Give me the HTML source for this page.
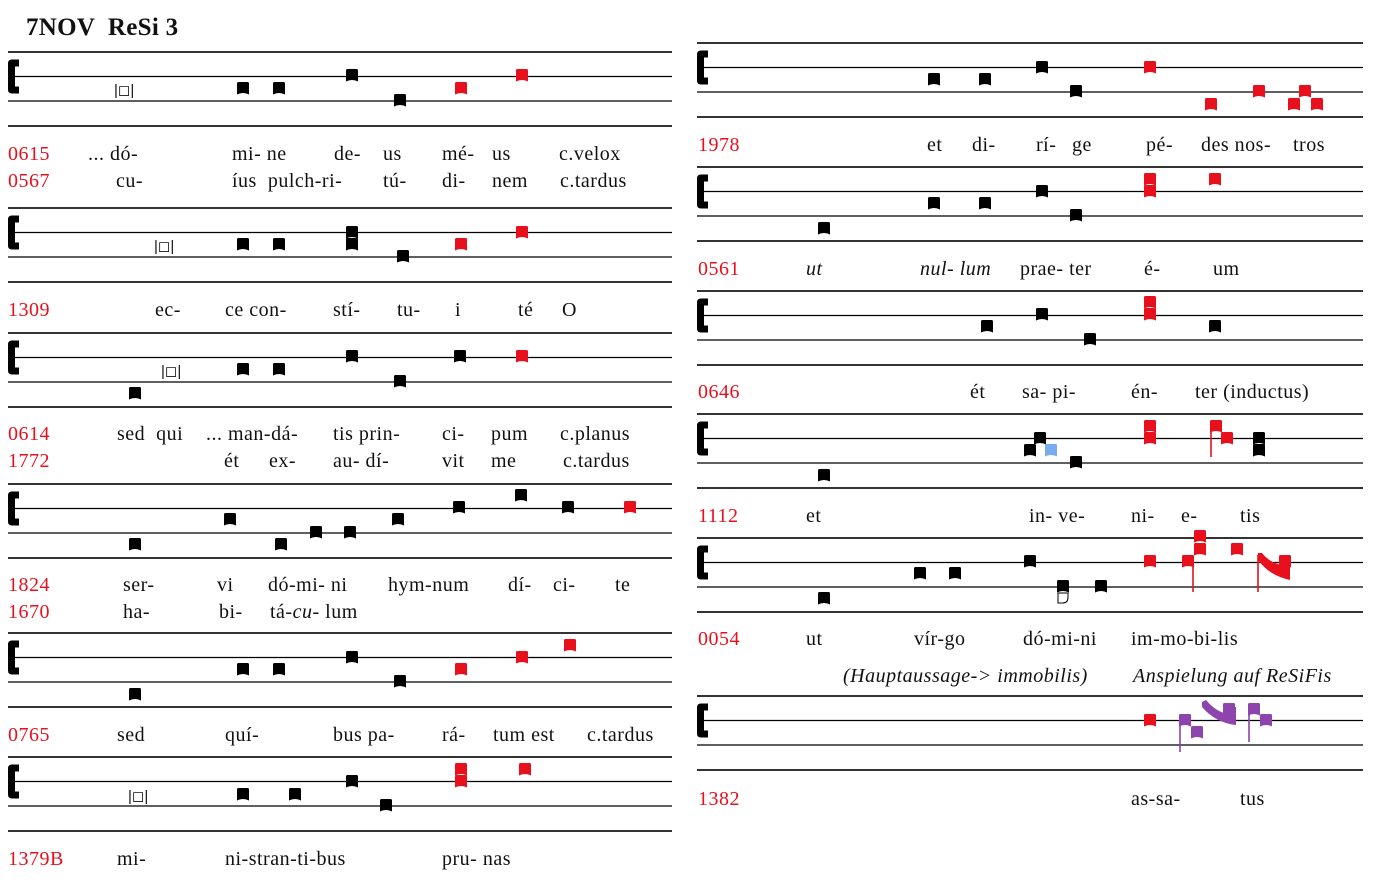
<!DOCTYPE html>
<html><head><meta charset="utf-8"><style>
html,body{margin:0;padding:0;background:#fff}
svg{display:block}
text{font-family:"Liberation Serif",serif;font-size:20px;letter-spacing:0.5px;fill:#111}
.r{fill:#e8101c}
.i{font-style:italic}
</style></head><body>
<svg id="s" width="1388" height="882" xmlns="http://www.w3.org/2000/svg">
<text x="26" y="35" style="font-size:25px;font-weight:bold;letter-spacing:0.3px" xml:space="preserve">7NOV  ReSi 3</text>
<g id="g"></g>
<!-- left text -->
<text x="8" y="160" class="r">0615</text><text x="88" y="160">... dó-</text><text x="232" y="160">mi- ne</text><text x="334" y="160">de-</text><text x="383" y="160">us</text><text x="442" y="160">mé-</text><text x="492" y="160">us</text><text x="559" y="160">c.velox</text>
<text x="8" y="187" class="r">0567</text><text x="116" y="187">cu-</text><text x="232" y="187" xml:space="preserve">íus  pulch-ri-</text><text x="383" y="187">tú-</text><text x="442" y="187">di-</text><text x="492" y="187">nem</text><text x="560" y="187">c.tardus</text>
<text x="8" y="316" class="r">1309</text><text x="155" y="316">ec-</text><text x="225" y="316">ce con-</text><text x="333" y="316">stí-</text><text x="397" y="316">tu-</text><text x="455" y="316">i</text><text x="518" y="316">té</text><text x="562" y="316">O</text>
<text x="8" y="440" class="r">0614</text><text x="117" y="440" xml:space="preserve">sed  qui</text><text x="206" y="440">... man-dá-</text><text x="333" y="440">tis prin-</text><text x="442" y="440">ci-</text><text x="491" y="440">pum</text><text x="560" y="440">c.planus</text>
<text x="8" y="467" class="r">1772</text><text x="224" y="467">ét</text><text x="269" y="467">ex-</text><text x="333" y="467">au- dí-</text><text x="442" y="467">vit</text><text x="491" y="467">me</text><text x="563" y="467">c.tardus</text>
<text x="8" y="591" class="r">1824</text><text x="123" y="591">ser-</text><text x="217" y="591">vi</text><text x="268" y="591">dó-mi- ni</text><text x="388" y="591">hym-num</text><text x="508" y="591">dí-</text><text x="553" y="591">ci-</text><text x="615" y="591">te</text>
<text x="8" y="618" class="r">1670</text><text x="123" y="618">ha-</text><text x="219" y="618">bi-</text><text x="270" y="618">tá-<tspan class="i">cu</tspan>- lum</text>
<text x="8" y="741" class="r">0765</text><text x="117" y="741">sed</text><text x="225" y="741">quí-</text><text x="333" y="741">bus pa-</text><text x="442" y="741">rá-</text><text x="493" y="741">tum est</text><text x="587" y="741">c.tardus</text>
<text x="8" y="865" class="r">1379B</text><text x="117" y="865">mi-</text><text x="225" y="865">ni-stran-ti-bus</text><text x="442" y="865">pru- nas</text>
<!-- right text -->
<text x="698" y="151" class="r">1978</text><text x="927" y="151">et</text><text x="972" y="151">di-</text><text x="1036" y="151">rí-</text><text x="1072" y="151">ge</text><text x="1146" y="151">pé-</text><text x="1201" y="151">des nos-</text><text x="1293" y="151">tros</text>
<text x="698" y="275" class="r">0561</text><text x="806" y="275" class="i">ut</text><text x="920" y="275" class="i">nul- lum</text><text x="1020" y="275">prae- ter</text><text x="1144" y="275">é-</text><text x="1213" y="275">um</text>
<text x="698" y="398" class="r">0646</text><text x="970" y="398">ét</text><text x="1022" y="398">sa- pi-</text><text x="1131" y="398">én-</text><text x="1195" y="398">ter (inductus)</text>
<text x="698" y="522" class="r">1112</text><text x="806" y="522">et</text><text x="1029" y="522">in- ve-</text><text x="1131" y="522">ni-</text><text x="1181" y="522">e-</text><text x="1240" y="522">tis</text>
<text x="698" y="645" class="r">0054</text><text x="806" y="645">ut</text><text x="914" y="645">vír-go</text><text x="1023" y="645">dó-mi-ni</text><text x="1131" y="645">im-mo-bi-lis</text>
<text x="843" y="682" class="i">(Hauptaussage-&gt; immobilis)</text><text x="1133" y="682" class="i">Anspielung auf ReSiFis</text>
<text x="698" y="805" class="r">1382</text><text x="1131" y="805">as-sa-</text><text x="1240" y="805">tus</text>
</svg>
<script>
var g=document.getElementById('g'),h='';
function staff(x1,x2,y){var ys=[y,y+24.5,y+49,y+74];
 h+='<line x1="'+x1+'" x2="'+x2+'" y1="'+ys[0]+'" y2="'+ys[0]+'" stroke="#333" stroke-width="2"/>';
 h+='<line x1="'+x1+'" x2="'+x2+'" y1="'+ys[3]+'" y2="'+ys[3]+'" stroke="#333" stroke-width="2"/>';
 h+='<line x1="'+x1+'" x2="'+x2+'" y1="'+ys[1]+'" y2="'+ys[1]+'" stroke="#000" stroke-width="1.3"/>';
 h+='<line x1="'+x1+'" x2="'+x2+'" y1="'+ys[2]+'" y2="'+ys[2]+'" stroke="#000" stroke-width="1.3"/>';
 var c=ys[1],x=x1;
 h+='<path d="M'+(x+4)+' '+(c-17)+' h7 v7 h-4 v20 h4 v7 h-7 q-4 0 -4 -4 v-26 q0 -4 4 -4 z" fill="#000"/>';
}
function n(x,y,c){c=c||'#000';h+='<path d="M'+(x-6)+' '+(y-5.5)+' q0 -1.5 1.5 -1.5 h9 q1.5 0 1.5 1.5 v11 q-6 -3 -12 0 z" fill="'+c+'"/>';}
function q(x,y){h+='<text x="'+(x-12)+'" y="'+(y+6)+'" style="font-size:15px;letter-spacing:0;font-family:Liberation Sans,sans-serif">|◻|</text>';}
function st(x,y1,y2,c){h+='<line x1="'+x+'" x2="'+x+'" y1="'+y1+'" y2="'+y2+'" stroke="'+c+'" stroke-width="1.6"/>';}
var R='#e8101c',P='#8e44ad';
staff(8,672,52);q(126,89);n(243,89);n(279,89);n(352,76);n(400,101);n(461,89,R);n(522,76,R);
staff(8,672,208);q(166,245);n(243,245);n(279,245);n(352,233);n(352,245);n(403,257);n(461,245,R);n(522,233,R);
staff(8,672,333);n(135,394);q(173,370);n(243,370);n(279,370);n(352,357);n(400,382);n(460,357);n(522,357,R);
staff(8,672,484);n(135,545);n(230,520);n(281,545);n(316,533);n(350,533);n(398,520);n(459,508);n(521,496);n(568,508);n(630,508,R);
staff(8,672,633);n(135,695);n(243,670);n(279,670);n(352,658);n(400,682);n(461,670,R);n(522,658,R);n(570,646,R);
staff(8,672,757);q(140,795);n(243,795);n(295,795);n(352,782);n(386,806);n(461,770,R);n(461,782,R);n(525,770,R);
staff(697,1363,43);n(934,80);n(985,80);n(1042,68);n(1076,92);n(1150,68,R);n(1211,105,R);n(1259,92,R);n(1305,92,R);n(1294,105,R);n(1317,105,R);
staff(697,1363,167);n(824,229);n(934,204);n(985,204);n(1042,192);n(1076,216);n(1150,180,R);n(1150,192,R);n(1215,180,R);
staff(697,1363,291);n(987,327);n(1042,315);n(1090,340);n(1150,303,R);n(1150,315,R);n(1215,327);
staff(697,1363,414);n(824,476);n(1030,451);n(1040,439);n(1051,451,'#7aaaf0');n(1076,463);n(1150,427,R);n(1150,439,R);n(1216,427,R);st(1211,427,457,R);n(1227,439,R);n(1259,439);n(1259,451);
staff(697,1363,538);n(824,599);n(920,574);n(955,574);n(1030,562);n(1063,587);h+='<path d="M1058 593 h10 v4 q0 6 -5 6 h-5 z" fill="none" stroke="#000" stroke-width="1"/>';n(1101,587);
n(1150,562,R);n(1188,562,R);st(1193,562,592,R);n(1200,537,R);n(1200,550,R);n(1237,550,R);st(1258,555,592,R);
h+='<path d="M1258 553 l4 0 q8 10 20 12 v-7 h8 v22 q-20 -4 -32 -20 z" fill="'+R+'"/>';n(1285,562,R);
staff(697,1363,696);n(1150,721,R);n(1185,721,P);st(1180,721,752,P);n(1197,733,P);
h+='<path d="M1202 702 l4 -2 q10 12 22 14 v-7 h8 v18 q-20 -2 -34 -18 z" fill="'+P+'"/>';n(1229,710,P);
n(1254,710,P);st(1249,710,742,P);n(1266,721,P);
g.innerHTML=h;
</script>
</body></html>
